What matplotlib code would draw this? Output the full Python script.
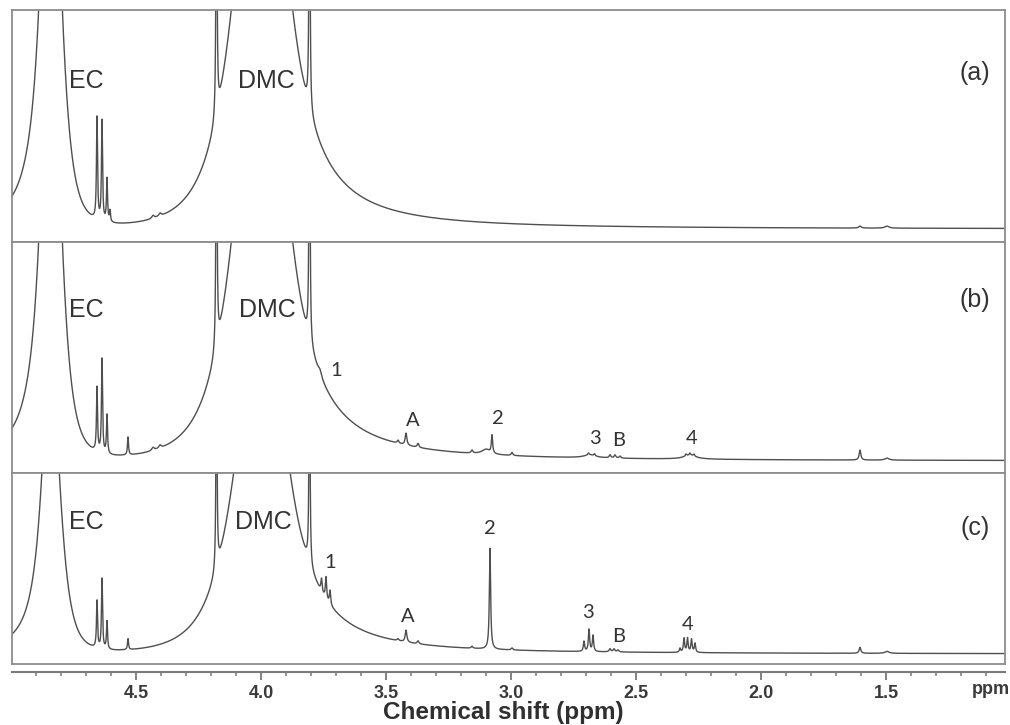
import numpy as np
import matplotlib
matplotlib.use("Agg")
import matplotlib.pyplot as plt

# ---------------- data ----------------
# chemical-shift window
ppm_left, ppm_right = 4.996, 1.024

# large solvent peaks: EC and DMC (split Pearson-VII shape)
solvent_ppm = [4.844, 3.990]
solvent_wl = [0.040, 0.180]      # half-width on the high-ppm side
solvent_wr = [0.069, 0.103]      # half-width on the low-ppm side
solvent_ml = [1.0, 2.0]          # exponent high-ppm side
solvent_mr = [2.0, 1.0]          # exponent low-ppm side
solvent_height_a = [500, 500]
solvent_height_b = [500, 500]
solvent_height_c = [300, 375]

# narrow peaks, spectrum (a)
a_ppm = [4.656, 4.636, 4.616, 4.604, 4.432, 4.404, 4.178, 3.806, 1.604, 1.496]
a_height = [102, 100, 43, 11, 3, 3, 400, 400, 2, 2]
a_width = [0.0025, 0.0025, 0.0025, 0.0025, 0.006, 0.006, 0.002, 0.002, 0.006, 0.01]

# narrow peaks, spectrum (b)
b_ppm = [4.656, 4.636, 4.616, 4.532, 4.432, 4.404, 4.178, 3.806, 3.764,
         3.452, 3.420, 3.372, 3.156, 3.100, 3.076, 2.996,
         2.684, 2.690, 2.666, 2.604, 2.584, 2.564,
         2.284, 2.300, 2.284, 2.268, 1.604, 1.496]
b_height = [64, 94, 39, 18, 3, 3, 400, 400, 5,
            3, 12, 4, 3, 5, 18, 3,
            3, 2, 2, 3, 3, 2,
            4, 2, 2, 2, 10, 2]
b_width = [0.0025, 0.0025, 0.0025, 0.0025, 0.006, 0.006, 0.002, 0.002, 0.008,
           0.004, 0.004, 0.004, 0.004, 0.02, 0.003, 0.004,
           0.03, 0.003, 0.003, 0.004, 0.004, 0.004,
           0.03, 0.003, 0.003, 0.003, 0.004, 0.01]

# narrow peaks, spectrum (c)
c_ppm = [4.656, 4.636, 4.616, 4.532, 4.178, 3.806, 3.758, 3.740, 3.724,
         3.452, 3.420, 3.372, 3.156, 3.084, 2.996,
         2.708, 2.688, 2.672, 2.604, 2.588, 2.572,
         2.324, 2.308, 2.294, 2.278, 2.264, 1.604, 1.496]
c_height = [47, 70, 28, 11, 300, 300, 13, 22, 14,
            2, 12, 3, 2, 101, 2,
            10, 22, 16, 3, 3, 2,
            4, 14, 14, 13, 9, 6, 2]
c_width = [0.0025, 0.0025, 0.0025, 0.0025, 0.002, 0.002, 0.003, 0.003, 0.003,
           0.004, 0.004, 0.004, 0.004, 0.003, 0.004,
           0.003, 0.003, 0.003, 0.004, 0.004, 0.004,
           0.003, 0.003, 0.003, 0.003, 0.003, 0.004, 0.01]

panel_tags = ["(a)", "(b)", "(c)"]
peak_labels_b = ["1", "A", "2", "3", "B", "4"]
peak_labels_c = ["1", "A", "2", "3", "B", "4"]
tick_values = [4.5, 4.0, 3.5, 3.0, 2.5, 2.0, 1.5]
x_title = "Chemical shift (ppm)"

# ---------------- build spectra ----------------
ppm = np.linspace(ppm_left + 0.01, ppm_right - 0.01, 24000)


def solvent(x, heights):
    y = np.zeros_like(x)
    for c, h, wl, wr, ml, mr in zip(solvent_ppm, heights, solvent_wl,
                                    solvent_wr, solvent_ml, solvent_mr):
        d = x - c
        w = np.where(d > 0, wl, wr)
        m = np.where(d > 0, ml, mr)
        y += h / (1 + (d / w) ** 2) ** m
    return y


def lines(x, centers, heights, widths):
    y = np.zeros_like(x)
    for c, h, w in zip(centers, heights, widths):
        y += h / (1 + ((x - c) / w) ** 2)
    return y


spec_a = solvent(ppm, solvent_height_a) + lines(ppm, a_ppm, a_height, a_width)
spec_b = solvent(ppm, solvent_height_b) + lines(ppm, b_ppm, b_height, b_width)
spec_c = solvent(ppm, solvent_height_c) + lines(ppm, c_ppm, c_height, c_width)

# ---------------- figure ----------------
W, H = 1010, 725
fig = plt.figure(figsize=(W / 100, H / 100), dpi=100)
fig.patch.set_facecolor("white")

line_col = "#4f4f4f"
frame_col = "#8c8c8c"
text_col = "#333333"


def fx(px):
    return px / W


def fy(py):
    return 1 - py / H


left_px, right_px = 12, 1005
panels = [(10, 242, -13, 219, spec_a),
          (242, 473, -12, 219, spec_b),
          (473, 664, -10, 181, spec_c)]
axes = []
for top, bot, y0, y1, spec in panels:
    ax = fig.add_axes([fx(left_px), fy(bot), fx(right_px - left_px),
                       (bot - top) / H])
    ax.plot(ppm, spec, color=line_col, lw=1.0)
    ax.set_xlim(ppm_left, ppm_right)
    ax.set_ylim(y0, y1)
    ax.set_xticks([])
    ax.set_yticks([])
    for s in ax.spines.values():
        s.set_color(frame_col)
        s.set_linewidth(1.3)
    axes.append(ax)

lab_font = dict(family=["Liberation Sans", "DejaVu Sans"], color=text_col)
num_font = dict(family=["Lato", "DejaVu Sans"], color=text_col)

ax_a, ax_b, ax_c = axes
# solvent labels
for ax, hy in [(ax_a, 148), (ax_b, 151), (ax_c, 132)]:
    ax.text(4.70, hy, "EC", ha="center", va="center", fontsize=18, **lab_font)
for ax, hy, px in [(ax_a, 148, 3.980), (ax_b, 151, 3.976), (ax_c, 132, 3.992)]:
    ax.text(px, hy, "DMC", ha="center", va="center", fontsize=18, **lab_font)
for ax, tag, hy in zip(axes, panel_tags, [156, 161, 126]):
    ax.text(1.144, hy, tag, ha="center", va="center", fontsize=18, **lab_font)

pos_b = [(3.700, 91), (3.392, 41), (3.052, 43), (2.664, 23), (2.568, 21), (2.276, 23)]
for t, (px, hy) in zip(peak_labels_b, pos_b):
    ax_b.text(px, hy, t, ha="center", va="center", fontsize=14.5, **num_font)
pos_c = [(3.724, 92), (3.412, 38), (3.084, 126), (2.692, 41), (2.568, 18), (2.292, 29)]
for t, (px, hy) in zip(peak_labels_c, pos_c):
    ax_c.text(px, hy, t, ha="center", va="center", fontsize=14.5, **num_font)

# chemical shift axis
axis_font = ["Liberation Sans Narrow", "Liberation Sans", "DejaVu Sans"]
axx = fig.add_axes([fx(left_px), fy(672), fx(right_px - left_px), 0.001])
axx.set_xlim(ppm_left, ppm_right)
axx.set_yticks([])
for k in ["left", "right", "top"]:
    axx.spines[k].set_visible(False)
axx.spines["bottom"].set_color("#7a7a7a")
axx.spines["bottom"].set_linewidth(1.5)
axx.patch.set_alpha(0)
axx.set_xticks(tick_values)
axx.set_xticks(np.arange(4.9, 1.05, -0.1), minor=True)
axx.set_xticklabels([f"{v:.1f}" for v in tick_values])
axx.tick_params(axis="x", which="major", length=6, width=1.3, color="#7a7a7a",
                pad=3, labelsize=13, labelcolor="#3a3a3a")
axx.tick_params(axis="x", which="minor", length=3, width=1.1, color="#7a7a7a")
for lab in axx.get_xticklabels():
    lab.set_fontweight("bold")
    lab.set_family(axis_font)
fig.text(fx(991), fy(690), "ppm", ha="center", va="center", fontsize=13,
         fontweight="bold", color="#3a3a3a", family=axis_font)
fig.text(fx(503), fy(712), x_title, ha="center", va="center", fontsize=17.5,
         fontweight="bold", color="#2f2f2f", family=axis_font)

fig.savefig("out.png", dpi=100, facecolor="white")
